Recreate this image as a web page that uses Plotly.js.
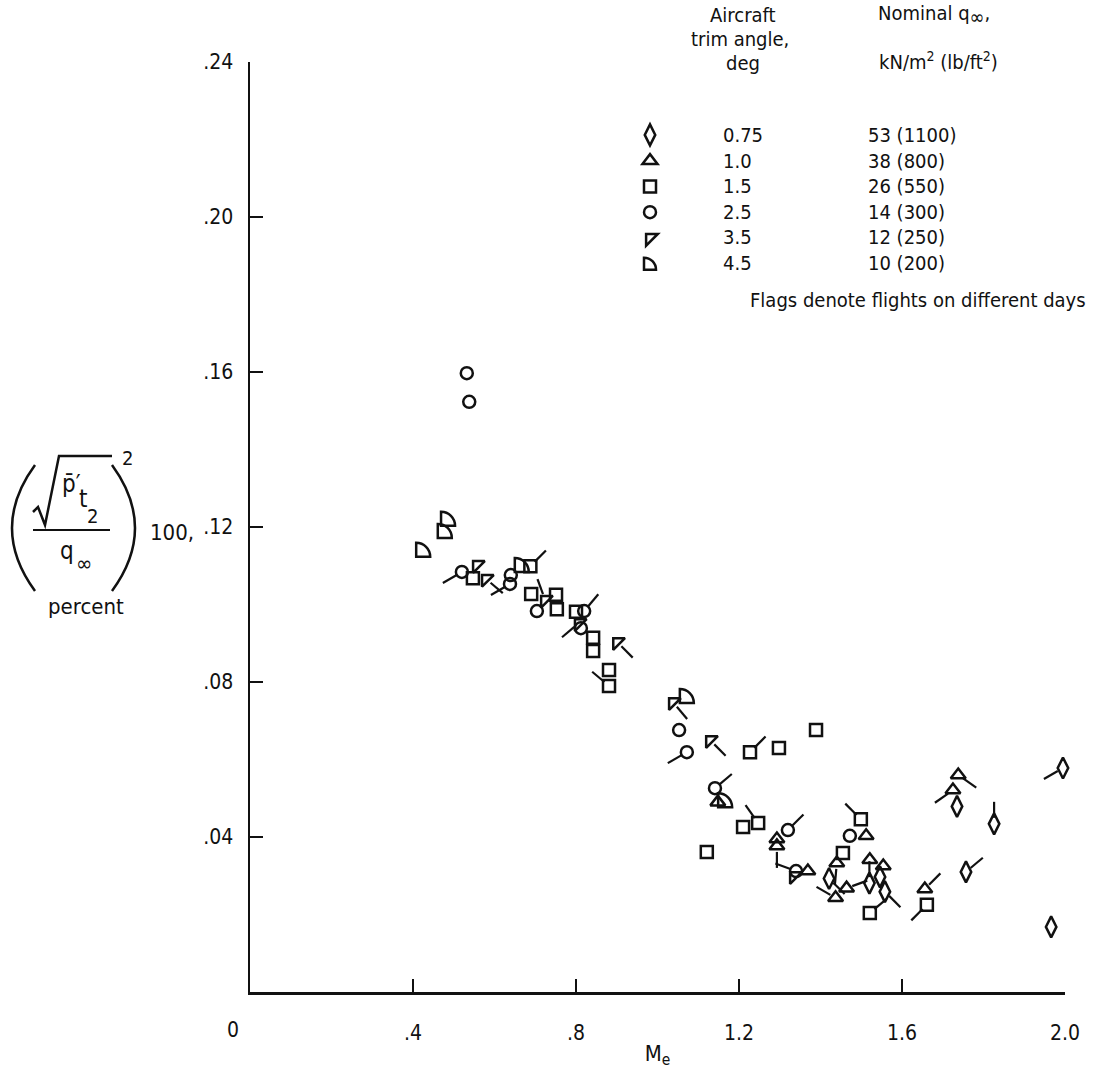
<!DOCTYPE html>
<html>
<head>
<meta charset="utf-8">
<script src="https://cdn.plot.ly/plotly-3.0.1.min.js"></script>
<style>
  html, body { margin: 0; padding: 0; background: #fff; }
  #plot { width: 1095px; height: 1073px; }
</style>
</head>
<body>
<div id="plot"></div>
<script>
// ---------------- DATA ----------------
const trimAngles = ['0.75', '1.0', '1.5', '2.5', '3.5', '4.5'];
const qNominal = ['53 (1100)', '38 (800)', '26 (550)', '14 (300)', '12 (250)', '10 (200)'];

const xTickVals = [0.4, 0.8, 1.2, 1.6, 2.0];
const xTickText = ['.4', '.8', '1.2', '1.6', '2.0'];
const yTickVals = [0.04, 0.08, 0.12, 0.16, 0.20, 0.24];
const yTickText = ['.04', '.08', '.12', '.16', '.20', '.24'];

// Trim 0.75 deg (diamonds); flag = direction of flag in degrees (null = unflagged)
const me075   = [1.421, 1.520, 1.546, 1.558, 1.735, 1.757, 1.826, 1.995, 1.966];
const p075    = [0.0293, 0.0281, 0.0297, 0.0259, 0.0479, 0.0310, 0.0434, 0.0578, 0.0168];
const flag075 = [-45, 90, null, -45, null, 40, 90, 210, null];

// Trim 1.0 deg (triangles)
const me10   = [1.512, 1.440, 1.521, 1.554, 1.464, 1.437, 1.656, 1.738, 1.725, 1.369, 1.293, 1.293, 1.148];
const p10    = [0.0403, 0.0333, 0.0341, 0.0325, 0.0268, 0.0243, 0.0266, 0.0560, 0.0521, 0.0312, 0.0395, 0.0377, 0.0490];
const flag10 = [null, -95, null, null, 20, 150, 45, -35, 215, null, null, -90, null];

// Trim 1.5 deg (squares)
const me15   = [0.547, 0.688, 0.690, 0.751, 0.753, 0.800, 0.842, 0.842, 0.881, 0.881, 1.121, 1.210, 1.247, 1.227, 1.298, 1.389, 1.499, 1.455, 1.521, 1.661];
const p15    = [0.1068, 0.1099, 0.1027, 0.1025, 0.0988, 0.0981, 0.0914, 0.0880, 0.0831, 0.0790, 0.0361, 0.0426, 0.0436, 0.0619, 0.0630, 0.0676, 0.0446, 0.0359, 0.0204, 0.0225];
const flag15 = [null, 45, null, null, null, null, null, null, null, 140, null, null, 125, 45, null, null, 135, null, 40, 225];

// Trim 2.5 deg (circles)
const me25   = [0.532, 0.538, 0.520, 0.640, 0.638, 0.704, 0.820, 0.812, 1.053, 1.072, 1.141, 1.320, 1.472, 1.340];
const p25    = [0.1597, 0.1523, 0.1084, 0.1076, 0.1053, 0.0983, 0.0983, 0.0939, 0.0676, 0.0619, 0.0526, 0.0418, 0.0403, 0.0312];
const flag25 = [null, null, 210, null, 210, null, 50, null, null, 210, 40, 45, null, 160];

// Trim 3.5 deg (flagged-corner triangles)
const me35   = [0.557, 0.579, 0.724, 0.807, 0.901, 1.038, 1.129, 1.335];
const p35    = [0.1102, 0.1066, 0.1012, 0.0952, 0.0903, 0.0748, 0.0650, 0.0299];
const flag35 = [null, -40, 110, 220, -45, -50, -45, null];

// Trim 4.5 deg (quarter circles)
const me45   = [0.486, 0.478, 0.425, 0.667, 1.072, 1.166];
const p45    = [0.1221, 0.1190, 0.1141, 0.1102, 0.0764, 0.0495];
const flag45 = [null, null, null, null, null, null];

// ---------------- LAYOUT CONSTANTS ----------------
const W = 1095, H = 1073;
const L = 250, R = 30, T = 62, B = 81;
const plotW = W - L - R, plotH = H - T - B;
const XMAX = 2.0, YMAX = 0.24;
const FONT = '"Liberation Sans Narrow", "DejaVu Sans Condensed", "Arial Narrow", "Liberation Sans", sans-serif';
const INK = '#111';

function P(px, py) { return { x: (px - L) / plotW, y: (H - B - py) / plotH }; }

const series = [
  { key: trimAngles[0], x: me075, y: p075, f: flag075, symbol: 'diamond-tall-open', size: 15 },
  { key: trimAngles[1], x: me10,  y: p10,  f: flag10,  symbol: 'triangle-up-open',  size: 13 },
  { key: trimAngles[2], x: me15,  y: p15,  f: flag15,  symbol: 'square-open',       size: 12 },
  { key: trimAngles[3], x: me25,  y: p25,  f: flag25,  symbol: 'circle-open',       size: 12 },
  { key: trimAngles[4], x: me35,  y: p35,  f: flag35,  symbol: 'triangle-nw-open',  size: 13 },
  { key: trimAngles[5], x: me45,  y: p45,  f: flag45,  symbol: 'triangle-sw-open',  size: 13, uid: 'q45' }
];

// flags: short segments drawn in data space from marker edge outward
const pxPerX = plotW / XMAX, pxPerY = plotH / YMAX;
const fx = [], fy = [];
series.forEach(s => {
  s.f.forEach((d, i) => {
    if (d === null) return;
    const a = d * Math.PI / 180, r0 = 6, r1 = 22;
    fx.push(s.x[i] + Math.cos(a) * r0 / pxPerX, s.x[i] + Math.cos(a) * r1 / pxPerX, null);
    fy.push(s.y[i] + Math.sin(a) * r0 / pxPerY, s.y[i] + Math.sin(a) * r1 / pxPerY, null);
  });
});

// legend shows symbols only; the two text columns of the key are annotations
const traces = series.map(s => ({
  type: 'scatter', mode: 'markers', name: '', meta: s.key, x: s.x, y: s.y, uid: s.uid,
  cliponaxis: false,
  marker: { symbol: s.symbol, size: s.size, color: INK, line: { color: INK, width: 2.5 } }
}));
traces.push({
  type: 'scatter', mode: 'lines', x: fx, y: fy, showlegend: false, cliponaxis: false,
  line: { color: INK, width: 2.2 }, hoverinfo: 'skip'
});

const ann = [];
function addText(px, py, text, size, xanchor, extra) {
  const p = P(px, py);
  ann.push(Object.assign({ xref: 'paper', yref: 'paper', x: p.x, y: p.y, text: text, showarrow: false,
    xanchor: xanchor || 'center', yanchor: 'middle', font: { family: FONT, size: size, color: INK } }, extra || {}));
}
// legend headers
addText(743, 15, 'Aircraft', 20);
addText(740, 39, 'trim angle,', 20);
addText(743, 63, 'deg', 20);
addText(876, 15, 'Nominal q<sub><span style="font-size:20px">∞</span></sub>,', 20, 'left');
addText(877, 61, 'kN/m<sup>2</sup> (lb/ft<sup>2</sup>)', 20, 'left');
const rowY = [135, 161, 186, 212, 237, 263];
trimAngles.forEach((t, i) => addText(721, rowY[i], t, 20, 'left'));
qNominal.forEach((t, i) => addText(866, rowY[i], t, 20, 'left'));
addText(1088, 300, 'Flags denote flights on different days', 20, 'right');
// origin label
addText(233, 1030, '0', 21);
// y-axis label pieces
addText(71, 484, 'p̄′', 24);
addText(83, 499, 't', 24);
addText(92, 516, '2', 20);
addText(127, 458, '2', 20);
addText(67, 551, 'q', 24);
addText(84, 563, '∞', 22);
addText(172, 532, '100,', 22);
addText(86, 607, 'percent', 22);

function sp(px, py) { const p = P(px, py); return p.x.toFixed(5) + ',' + p.y.toFixed(5); }
const shapes = [
  // parentheses
  { type: 'path', xref: 'paper', yref: 'paper', path: 'M' + sp(35, 465) + ' Q' + sp(-11, 528) + ' ' + sp(35, 591), line: { color: INK, width: 2.5 } },
  { type: 'path', xref: 'paper', yref: 'paper', path: 'M' + sp(112, 465) + ' Q' + sp(158, 528) + ' ' + sp(112, 591), line: { color: INK, width: 2.5 } },
  // radical
  { type: 'path', xref: 'paper', yref: 'paper', path: 'M' + sp(33, 512) + ' L' + sp(38, 507) + ' L' + sp(45, 525) + ' L' + sp(59, 456) + ' L' + sp(112, 456), line: { color: INK, width: 2.5 } },
  // fraction bar
  { type: 'line', xref: 'paper', yref: 'paper', x0: P(33, 530).x, x1: P(110, 530).x, y0: P(33, 530).y, y1: P(110, 530).y, line: { color: INK, width: 2 } }
];

const layout = {
  width: W, height: H,
  margin: { l: L, r: R, t: T, b: B, pad: 0 },
  paper_bgcolor: '#fff', plot_bgcolor: '#fff',
  font: { family: FONT, size: 21, color: INK },
  xaxis: {
    range: [0, XMAX], showgrid: false, zeroline: false,
    showline: true, linecolor: INK, linewidth: 2.5,
    ticks: 'inside', ticklen: 13, tickwidth: 2, tickcolor: INK,
    tickvals: xTickVals, ticktext: xTickText, ticklabelstandoff: 20,
    tickfont: { family: FONT, size: 21, color: INK },
    title: { text: 'M<sub>e</sub>', font: { family: FONT, size: 22, color: INK }, standoff: 2 }
  },
  yaxis: {
    range: [0, YMAX], showgrid: false, zeroline: false,
    showline: true, linecolor: INK, linewidth: 2.5,
    ticks: 'inside', ticklen: 13, tickwidth: 2, tickcolor: INK,
    tickvals: yTickVals, ticktext: yTickText, ticklabelstandoff: 10,
    tickfont: { family: FONT, size: 21, color: INK }
  },
  showlegend: true,
  legend: {
    x: P(580, 0).x, y: P(0, 117).y, xanchor: 'left', yanchor: 'top',
    itemwidth: 130, tracegroupgap: 0, bgcolor: 'rgba(0,0,0,0)',
    font: { family: FONT, size: 17.5, color: INK }, itemclick: false, itemdoubleclick: false
  },
  annotations: ann,
  shapes: shapes
};

const QPATH = 'M-7,-7L-7,7L7,7A14,14 0 0 0 -7,-7Z';
const QPATH_LEG = 'M-6,-6L-6,6L6,6A12,12 0 0 0 -6,-6Z';
Plotly.newPlot('plot', traces, layout, { displayModeBar: false, staticPlot: true }).then(gd => {
  // quarter-circle symbol for the 4.5 deg series
  gd.querySelectorAll('.traceq45 path.point').forEach(p => p.setAttribute('d', QPATH));
  const legItems = gd.querySelectorAll('.legend .traces');
  if (legItems.length >= 6) {
    legItems[5].querySelectorAll('.legendpoints path.scatterpts').forEach(p => p.setAttribute('d', QPATH_LEG));
  }
});
</script>
</body>
</html>
